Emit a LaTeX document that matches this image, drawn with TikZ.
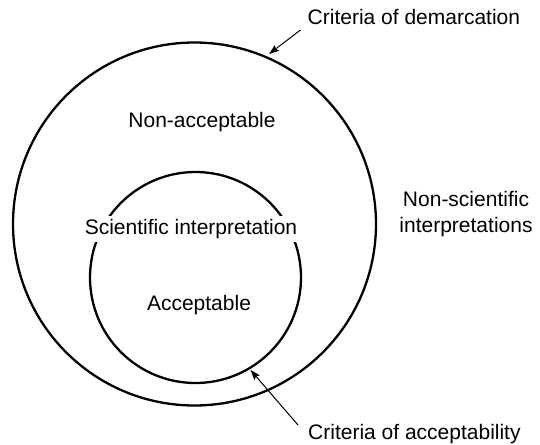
\documentclass[tikz,border=0pt]{standalone}
\usepackage{fontspec}
\setmainfont{Liberation Sans}
\usetikzlibrary{arrows.meta}
\begin{document}
\begin{tikzpicture}[x=1pt,y=-1pt,
  lbl/.style={font=\fontsize{21}{26}\selectfont, inner sep=0pt},
  ring/.style={circle, draw, line width=2.3pt, inner sep=0pt},
  pointer/.style={draw, line width=1pt, -{Stealth[length=10pt,width=7pt,inset=1.5pt]}}]
\useasboundingbox (0,0) rectangle (540,444);
\node[ring, minimum size=363pt] (outer) at (194.5,224) {};
\node[ring, minimum size=211pt] (inner) at (195.5,277.5) {};
\node[lbl, anchor=base] (nonacc) at (202,127) {Non-acceptable};
\node[lbl, anchor=base, fill=white, inner sep=3pt] (sci) at (191,234.5) {Scientific interpretation};
\node[lbl, anchor=base] (acc) at (199,310) {Acceptable};
\node[lbl, anchor=base, align=center] (nonsci) at (466,232.5) {Non-scientific\\interpretations};
\node[lbl, anchor=base west] (dem) at (307.5,25) {Criteria of demarcation};
\node[lbl, anchor=base west] (crit) at (308,439) {Criteria of acceptability};
\coordinate (demtip) at (269,54);
\coordinate (acctip) at (250.5,370);
\draw[pointer] (dem.west |- 0,30) ++(-7,0) coordinate (ds) -- (demtip);
\draw[pointer] (crit.west |- 0,425) ++(-10,0) coordinate (as) -- (acctip);
\end{tikzpicture}
\end{document}
